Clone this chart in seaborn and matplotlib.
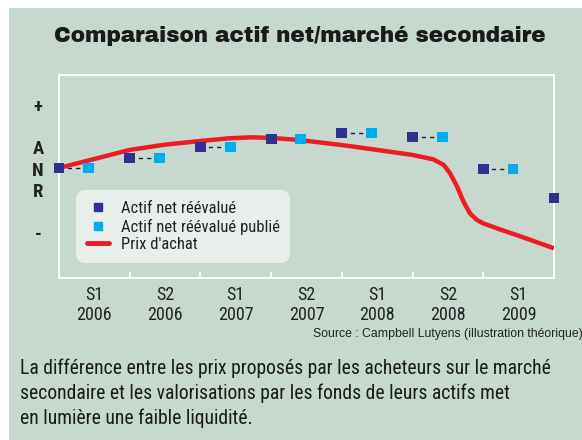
import numpy as np
import pandas as pd
import matplotlib
matplotlib.use("Agg")
import matplotlib.pyplot as plt
from matplotlib.patches import Rectangle
from matplotlib.lines import Line2D
import seaborn as sns

sns.set_theme(style="white")
NARROW = ['Roboto Condensed', 'DejaVu Sans']
plt.rcParams['font.family'] = NARROW

# periods (semesters)
periodes = ['S1\n2006', 'S2\n2006', 'S1\n2007', 'S2\n2007',
            'S1\n2008', 'S2\n2008', 'S1\n2009']
# revalued NAV (dark squares), one per period boundary
anr_x = [0, 1, 2, 3, 4, 5, 6, 7]
anr_y = [54.2, 59.1, 64.5, 68.5, 71.4, 69.5, 53.7, 39.4]
# published revalued NAV (light squares), lagging a bit
pub_x = [0.42, 1.42, 2.42, 3.42, 4.42, 5.42, 6.42]
pub_y = [54.2, 59.1, 64.5, 68.5, 71.4, 69.5, 53.7]
# purchase price curve
prix_x = [0, 0.44, 1.0, 1.5, 2.0, 2.4, 2.71, 3.0, 3.4, 4.0, 4.5, 5.0, 5.29,
          5.44, 5.53, 5.63, 5.72, 5.81, 5.91, 6.0, 6.19, 6.6, 7.0]
prix_y = [54.2, 58.1, 63.1, 65.7, 67.5, 68.8, 69.3, 69.0, 68.0, 65.5, 63.1,
          60.6, 58.5, 55.7, 51.6, 45.0, 37.6, 31.9, 28.6, 26.9, 24.5, 19.6, 14.6]

GREEN = '#c7d9ce'
DARK = '#2e3192'
LIGHT = '#00aeef'
RED = '#ed1c24'

fig = plt.figure(figsize=(5.82, 4.40), dpi=100)
fig.patch.set_facecolor('white')
fig.patches.append(Rectangle((9 / 582, 0), 1, 1 - 8 / 440, transform=fig.transFigure,
                             facecolor=GREEN, edgecolor='none', zorder=-10))

ax = fig.add_axes([59 / 582, 1 - 278 / 440, 495 / 582, 203 / 440])
ax.set_facecolor(GREEN)

prix = pd.DataFrame({'x': prix_x, 'y': prix_y})
sns.lineplot(data=prix, x='x', y='y', color=RED, lw=3.2, ax=ax, zorder=3,
             solid_capstyle='butt', solid_joinstyle='round')

for x0, x1, y in zip(anr_x, pub_x, pub_y):
    ax.plot([x0, x1], [y, y], ls=(0, (3, 3)), color='#1a1a40', lw=1.0, zorder=2)

ax.scatter(anr_x, anr_y, marker='s', s=60, color=DARK, edgecolor='none', zorder=4,
           clip_on=False)
ax.scatter(pub_x, pub_y, marker='s', s=60, color=LIGHT, edgecolor='none', zorder=4,
           clip_on=False)

ax.set_xlim(0, 7)
ax.set_ylim(0, 100)
ax.set_xlabel('')
ax.set_ylabel('')
ax.set_yticks([])
ax.set_xticks(np.arange(len(periodes)) + 0.5)
ax.set_xticklabels(periodes, fontsize=13, color='#222222', linespacing=1.1)
ax.set_xticks(np.arange(1, 7), minor=True)
ax.tick_params(axis='x', which='major', length=0, pad=6)
ax.tick_params(axis='x', which='minor', direction='in', length=4, width=1.2,
               color='white', bottom=True)
for sp in ax.spines.values():
    sp.set_color('white')
    sp.set_linewidth(1.3)
    sp.set_visible(True)

handles = [
    Line2D([], [], marker='s', ls='none', color=DARK, markersize=6),
    Line2D([], [], marker='s', ls='none', color=LIGHT, markersize=6),
    Line2D([], [], color=RED, lw=3.5),
]
leg = ax.legend(handles, ['Actif net réévalué', 'Actif net réévalué publié', "Prix d'achat"],
                loc='lower left', bbox_to_anchor=(0.025, 0.05), fontsize=12,
                frameon=True, fancybox=True, facecolor='#e8efea', edgecolor='none',
                framealpha=1, handlelength=1.3, handletextpad=0.7, labelspacing=0.15,
                borderpad=0.45, labelcolor='#222222')
leg.get_frame().set_boxstyle('round', pad=0.2, rounding_size=0.6)

# y axis markers
for txt, ypx in [('+', 107), ('A', 149), ('N', 171), ('R', 192), ('-', 235)]:
    fig.text(38 / 582, 1 - ypx / 440, txt, ha='center', va='center', fontsize=13.5,
             fontweight='bold', color='#222222')

fig.text(300 / 582, 1 - 36 / 440, 'Comparaison actif net/marché secondaire',
         ha='center', va='center', fontsize=15.5, color='#1a1a1a',
         family=['Archivo Black', 'DejaVu Sans'])
fig.text(583 / 582, 1 - 334 / 440, 'Source : Campbell Lutyens (illustration théorique)',
         ha='right', va='center', fontsize=8.8, color='#222222',
         family=['Liberation Sans', 'DejaVu Sans'])

caption = ['La différence entre les prix proposés par les acheteurs sur le marché',
           'secondaire et les valorisations par les fonds de leurs actifs met',
           'en lumière une faible liquidité.']
for i, line in enumerate(caption):
    fig.text(20 / 582, 1 - (368 + 25 * i) / 440, line, ha='left', va='center',
             fontsize=14.1, color='#1a1a1a')

fig.savefig('out.png', dpi=100, facecolor=fig.get_facecolor())
